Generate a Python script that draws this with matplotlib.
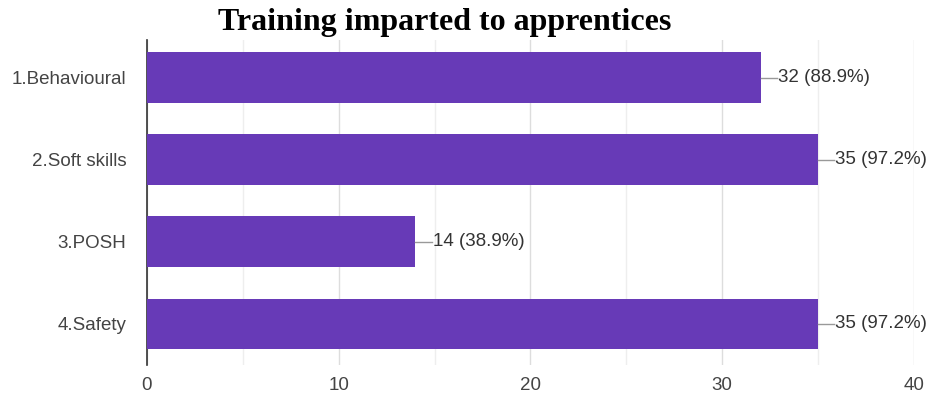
import matplotlib.pyplot as plt
import numpy as np

categories = ['1.Behavioural', '2.Soft skills', '3.POSH', '4.Safety']
counts = [32, 35, 14, 35]
percents = [88.9, 97.2, 38.9, 97.2]

plt.rcParams['font.family'] = ['Liberation Sans', 'DejaVu Sans']

fig = plt.figure(figsize=(9.52, 4.16), dpi=100)
ax = fig.add_axes([0.1544, 0.1226, 0.8056, 0.7812])

y = np.arange(len(categories))
ax.barh(y, counts, height=0.62, color='#673ab7', zorder=3)

# value labels with a short leader line
for yi, c, p in zip(y, counts, percents):
    ax.plot([c, c + 0.85], [yi, yi], color='#999999', lw=1, zorder=3)
    ax.text(c + 0.9, yi, f'{c} ({p}%)', va='center', ha='left',
            fontsize=13.5, color='#333333')

ax.set_xlim(0, 40)
ax.set_ylim(3.5, -0.46)
ax.set_xticks([0, 10, 20, 30, 40])
ax.set_xticks(np.arange(5, 40, 10), minor=True)
ax.grid(axis='x', which='major', color='#dddddd', lw=1, zorder=0)
ax.grid(axis='x', which='minor', color='#eeeeee', lw=1, zorder=0)
ax.set_yticks(y)
ax.set_yticklabels(categories)
ax.tick_params(axis='both', which='both', length=0, labelsize=13.5, labelcolor='#444444')
ax.tick_params(axis='y', pad=15)
ax.tick_params(axis='x', pad=9)

for s in ['top', 'right', 'bottom']:
    ax.spines[s].set_visible(False)
ax.spines['left'].set_color('#333333')
ax.spines['left'].set_linewidth(1.2)

fig.text(0.4675, 0.945, 'Training imparted to apprentices', ha='center', va='center',
         fontsize=23, fontweight='bold', family='Liberation Serif')

plt.savefig('out.png', dpi=100)
